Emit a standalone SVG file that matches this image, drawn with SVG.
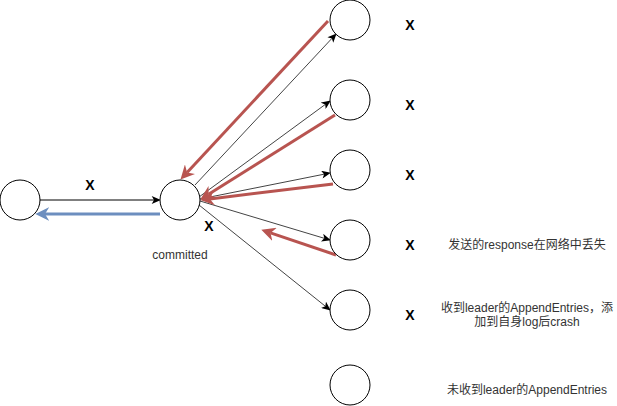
<svg xmlns="http://www.w3.org/2000/svg" width="617" height="406" viewBox="0 0 617 406">
<style>
.node{fill:#fff;stroke:#000;stroke-width:1}
.blk{stroke:#000;stroke-width:1;fill:none;marker-end:url(#ab)}
.blkd{stroke:#444;stroke-width:1;fill:none;marker-end:url(#ab)}
.red{stroke:#b85450;stroke-width:3;fill:none;marker-end:url(#ar)}
.blue{stroke:#6c8ebf;stroke-width:3;fill:none;marker-end:url(#abl)}
.x{font-family:"Liberation Sans",Arial,sans-serif;font-size:14px;font-weight:bold;text-anchor:middle;fill:#000}
.lbl{font-family:"Liberation Sans","Noto Sans CJK SC",sans-serif;font-size:12px;text-anchor:middle;fill:#333}
</style>
<defs>
<marker id="ab" markerUnits="userSpaceOnUse" markerWidth="10" markerHeight="8" refX="2" refY="3.5" orient="auto" viewBox="0 0 8 7">
<path d="M0,0 L8,3.5 L0,7 L2,3.5 Z" fill="#000"/>
</marker>
<marker id="ar" markerUnits="userSpaceOnUse" markerWidth="14" markerHeight="14" refX="4" refY="6.5" orient="auto" viewBox="0 0 13 13">
<path d="M0,0 L13,6.5 L0,13 L4,6.5 Z" fill="#b85450"/>
</marker>
<marker id="abl" markerUnits="userSpaceOnUse" markerWidth="14" markerHeight="14" refX="4" refY="6.5" orient="auto" viewBox="0 0 13 13">
<path d="M0,0 L13,6.5 L0,13 L4,6.5 Z" fill="#6c8ebf"/>
</marker>
</defs>
<g id="connectors">
<line class="blk" x1="40" y1="200" x2="154" y2="200"/>
<line class="blue" x1="160" y1="214" x2="45" y2="214"/>
<line class="blkd" x1="195" y1="185" x2="331.9" y2="38.4"/>
<line class="blkd" x1="199" y1="197" x2="325.2" y2="104.5"/>
<line class="blkd" x1="200" y1="199" x2="324.1" y2="174.2"/>
<line class="blkd" x1="200" y1="201" x2="324.3" y2="238.3"/>
<line class="blkd" x1="199" y1="205" x2="325.3" y2="306.2"/>
<line class="red" x1="328" y1="21" x2="187.1" y2="172.4"/>
<line class="red" x1="335" y1="115" x2="208.6" y2="194.2"/>
<line class="red" x1="333" y1="184" x2="209.9" y2="198.9"/>
<line class="red" x1="336" y1="255" x2="270.5" y2="232.9"/>
</g>
<g id="n-left"><circle class="node" cx="20" cy="200" r="20"/></g>
<g id="n-leader"><circle class="node" cx="180" cy="200" r="20"/><text class="lbl" x="180" y="259">committed</text></g>
<g id="n1"><circle class="node" cx="350" cy="20" r="20"/></g>
<g id="n2"><circle class="node" cx="350" cy="100" r="20"/></g>
<g id="n3"><circle class="node" cx="350" cy="170" r="20"/></g>
<g id="n4"><circle class="node" cx="350" cy="240" r="20"/></g>
<g id="n5"><circle class="node" cx="350" cy="310" r="20"/></g>
<g id="n6"><circle class="node" cx="350" cy="385" r="20"/></g>
<g id="labels">
<text class="x" x="90" y="190">X</text>
<text class="x" x="209" y="231">X</text>
<text class="x" x="410" y="30">X</text>
<text class="x" x="410" y="110">X</text>
<text class="x" x="410" y="180">X</text>
<text class="x" x="410" y="250">X</text>
<text class="x" x="410" y="320">X</text>
<text class="lbl" x="527" y="249">发送的response在网络中丢失</text>
<text class="lbl" x="527" y="312">收到leader的AppendEntries，添</text>
<text class="lbl" x="527" y="326">加到自身log后crash</text>
<text class="lbl" x="527" y="394">未收到leader的AppendEntries</text>
</g>
</svg>
